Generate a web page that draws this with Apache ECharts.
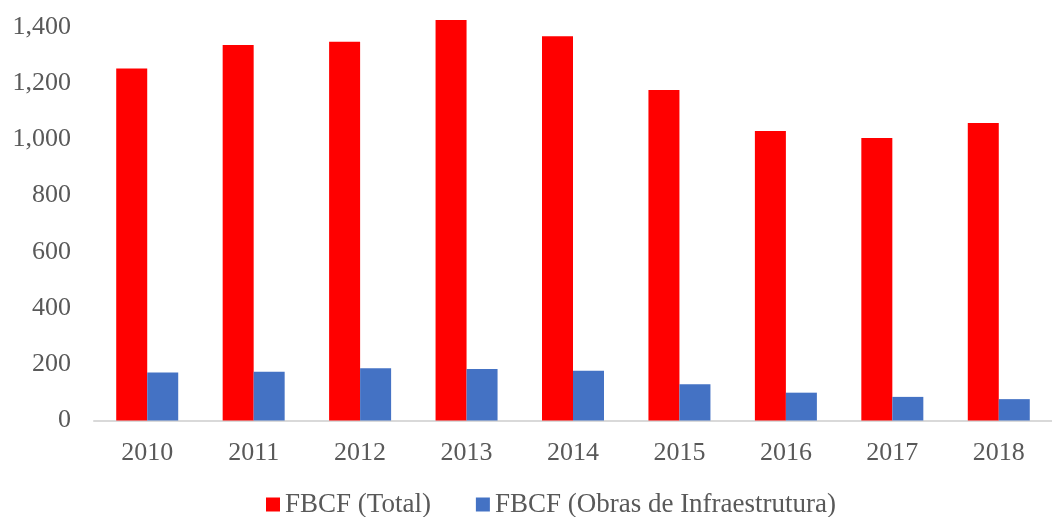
<!DOCTYPE html>
<html>
<head>
<meta charset="utf-8">
<script src="https://cdn.jsdelivr.net/npm/echarts@6/dist/echarts.min.js"></script>
<style>
  html, body { margin: 0; padding: 0; background: #ffffff; }
  #chart { width: 1052px; height: 517px; }
</style>
</head>
<body>
<div id="chart"></div>
<script>
// Years on the category axis
const years = ['2010', '2011', '2012', '2013', '2014', '2015', '2016', '2017', '2018'];
// Gross fixed capital formation, total
const fbcfTotal = [1252, 1336, 1347, 1425, 1367, 1176, 1030, 1005, 1058];
// Gross fixed capital formation, infrastructure works
const fbcfInfra = [171, 173, 186, 183, 177, 129, 99, 84, 76];
// Series names shown in the legend
const seriesNames = ['FBCF (Total)', 'FBCF (Obras de Infraestrutura)'];

const textColor = '#595959';
const fontFamily = '"Liberation Serif", "Times New Roman", serif';

const chart = echarts.init(document.getElementById('chart'));
chart.setOption({
  animation: false,
  backgroundColor: '#ffffff',
  textStyle: { fontFamily: fontFamily, color: textColor },
  // value axis runs to 1450 so the tallest bar fits above the last labelled tick
  grid: { left: 94, top: 12.9, width: 972, height: 407.6, containLabel: false },
  legend: {
    data: seriesNames,
    top: 486,
    left: 261,
    icon: 'rect',
    itemWidth: 14,
    itemHeight: 14,
    itemGap: 45,
    textStyle: { fontFamily: fontFamily, fontSize: 27, color: textColor }
  },
  xAxis: {
    type: 'category',
    data: years,
    axisLine: { lineStyle: { color: '#d9d9d9', width: 2 } },
    axisTick: { show: false },
    axisLabel: { fontFamily: fontFamily, fontSize: 26, color: textColor, margin: 20 }
  },
  yAxis: {
    type: 'value',
    min: 0,
    max: 1450,
    interval: 200,
    splitLine: { show: false },
    axisLine: { show: false },
    axisTick: { show: false },
    axisLabel: {
      fontFamily: fontFamily, fontSize: 26, color: textColor, margin: 23,
      showMaxLabel: false,
      formatter: v => (v % 200 === 0 ? v.toLocaleString('en-US') : '')
    }
  },
  series: [
    {
      name: seriesNames[0],
      type: 'bar',
      data: fbcfTotal,
      barWidth: 31,
      barGap: '0%',
      itemStyle: { color: '#ff0000' }
    },
    {
      name: seriesNames[1],
      type: 'bar',
      data: fbcfInfra,
      barWidth: 31,
      barGap: '0%',
      itemStyle: { color: '#4472c4' }
    }
  ]
});
</script>
</body>
</html>
